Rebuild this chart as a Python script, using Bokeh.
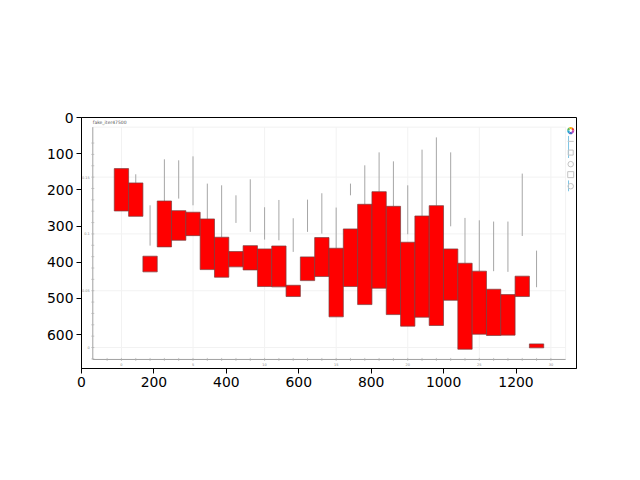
from bokeh.plotting import figure
from bokeh.models import Range1d, FixedTicker
from bokeh.core.properties import value
from bokeh.embed import file_html
from bokeh.resources import INLINE
import math

index = list(range(30))
bar_top = [0.1575, 0.1449, 0.0804, 0.1290, 0.1205, 0.1191, 0.1132, 0.0971, 0.0845, 0.0897,
           0.0868, 0.0894, 0.0548, 0.0798, 0.0968, 0.0874, 0.1044, 0.1261, 0.1372, 0.1243,
           0.0927, 0.1158, 0.1249, 0.0868, 0.0742, 0.0672, 0.0513, 0.0466, 0.0628, 0.0032]
bar_bottom = [0.1202, 0.1155, 0.0666, 0.0886, 0.0944, 0.0985, 0.0686, 0.0619, 0.0710, 0.0683,
              0.0537, 0.0534, 0.0449, 0.0589, 0.0625, 0.0270, 0.0537, 0.0378, 0.0522, 0.0290,
              0.0188, 0.0267, 0.0194, 0.0416, -0.0015, 0.0117, 0.0106, 0.0109, 0.0449, -0.0003]
wick_top = [0.1575, 0.1525, 0.1252, 0.1657, 0.1648, 0.1683, 0.1443, 0.1428, 0.1340, 0.1481,
            0.1235, 0.1299, 0.1138, 0.1302, 0.1358, 0.1232, 0.1443, 0.1604, 0.1718, 0.1639,
            0.1428, 0.1742, 0.1850, 0.1718, 0.1141, 0.1120, 0.1109, 0.1109, 0.1531, 0.0853]
wick_bottom = [0.1575, 0.1449, 0.0897, 0.1290, 0.1311, 0.1252, 0.1132, 0.0971, 0.1097, 0.1018,
               0.0950, 0.0944, 0.0842, 0.1018, 0.1003, 0.0874, 0.1340, 0.1261, 0.1372, 0.1243,
               0.0997, 0.1158, 0.1249, 0.1067, 0.0742, 0.0672, 0.0672, 0.0666, 0.0982, 0.0531]

outer_x_ticks = [0, 200, 400, 600, 800, 1000, 1200]
outer_y_ticks = [0, 100, 200, 300, 400, 500, 600]
inner_x_major = [0, 5, 10, 15, 20, 25, 30]
inner_x_labels = ["0", "5", "10", "15", "20", "25", "30"]
inner_y_major = [0, 0.05, 0.1, 0.15]
inner_y_labels = ["0", "0.05", "0.1", "0.15"]
inner_x_minor = list(range(-1, 31))
inner_y_minor = [-0.01 + 0.01 * k for k in range(20)]
inner_title = "fake_iter47500"

IX0, IX1, IY0, IY1 = -2.0, 31.03, -0.0105, 0.194

# chrome of the screenshotted toolbar, in image pixels of the outer axes
tool_y = [66, 97, 129, 158, 190]
tool_markers = ["dash", "square", "circle", "square", "circle"]
tool_sizes = [6, 5, 5.5, 6, 5.5]
tool_x = 1351
ring_colors = ["#e8443a", "#f5b400", "#5cb85c", "#26a6d1", "#4b62c8", "#c04bc0"]
blue_x = 1345
blue_y0 = [51, 174]
blue_y1 = [112, 204]

p = figure(width=632, height=472, output_backend="svg", toolbar_location=None,
           x_range=Range1d(0, 1367), y_range=Range1d(694, 0),
           min_border_left=81, min_border_right=56, min_border_top=117, min_border_bottom=104)
p.extra_x_ranges["ix"] = Range1d(-2.79, 31.79)
p.extra_y_ranges["iy"] = Range1d(-0.01847, 0.2025)
p.grid.visible = False
p.outline_line_color = "black"
p.outline_line_width = 1

for ax, ticks in ((p.xaxis[0], outer_x_ticks), (p.yaxis[0], outer_y_ticks)):
    ax.ticker = FixedTicker(ticks=ticks)
    ax.major_tick_line_color = "black"
    ax.major_tick_in = 0
    ax.major_tick_out = 5
    ax.minor_tick_line_color = None
    ax.axis_line_color = "black"
    ax.major_label_text_font = "DejaVu Sans"
    ax.major_label_text_font_size = "13.9px"
    ax.major_label_text_color = "black"
    ax.major_label_standoff = 3

kw = dict(x_range_name="ix", y_range_name="iy")
grid = "#f2f2f2"
# inner screenshot: grid and frame
p.segment(x0=inner_x_major, x1=inner_x_major, y0=[IY0] * 7, y1=[IY1] * 7, line_color=grid, line_width=1, **kw)
p.segment(x0=[IX0] * 4, x1=[IX1] * 4, y0=inner_y_major, y1=inner_y_major, line_color=grid, line_width=1, **kw)
p.segment(x0=[IX0, IX1], x1=[IX1, IX1], y0=[IY1, IY0], y1=[IY1, IY1], line_color=grid, line_width=1, **kw)

# wicks and bars
p.segment(x0=index, x1=index, y0=wick_bottom, y1=wick_top, line_color="#a6a6a6", line_width=1, **kw)
p.vbar(x=index, width=1, top=bar_top, bottom=bar_bottom, fill_color="#ff0000",
       line_color="#7a3c3c", line_width=0.7, **kw)

# inner axes
axc = "#a0a0a0"
p.segment(x0=[IX0, IX0], x1=[IX1, IX0], y0=[IY0, IY0], y1=[IY0, IY1], line_color=axc, line_width=1, **kw)
p.scatter(x=inner_x_minor, y=[IY0] * len(inner_x_minor), marker="dash", angle=1.5708, size=3,
          line_color="#b0b0b0", line_width=0.7, **kw)
p.scatter(x=[IX0] * len(inner_y_minor), y=inner_y_minor, marker="dash", size=3,
          line_color="#b0b0b0", line_width=0.7, **kw)
p.text(x=inner_x_major, y=[IY0] * 7, text=inner_x_labels, text_font=value("DejaVu Sans"), text_font_size="3.5px",
       text_color="#8a8a8a", text_align="center", text_baseline="middle", y_offset=5, **kw)
p.text(x=[IX0] * 4, y=inner_y_major, text=inner_y_labels, text_font=value("DejaVu Sans"), text_font_size="3.5px",
       text_color="#8a8a8a", text_align="right", text_baseline="middle", x_offset=-3, **kw)
p.text(x=[IX0], y=[IY1], text=[inner_title], text_font=value("DejaVu Sans"), text_font_size="4.5px",
       text_color="#555555", text_align="left", text_baseline="bottom", y_offset=-2, **kw)

# toolbar
n = len(ring_colors)
p.annular_wedge(x=[tool_x] * n, y=[36] * n, inner_radius=1.4, outer_radius=3.6,
                inner_radius_units="screen", outer_radius_units="screen",
                start_angle=[2 * math.pi * k / n for k in range(n)],
                end_angle=[2 * math.pi * (k + 1) / n for k in range(n)],
                fill_color=ring_colors, line_color=None)
p.segment(x0=[blue_x] * 2, x1=[blue_x] * 2, y0=blue_y0, y1=blue_y1, line_color="#7cc4e4", line_width=1)
for ty, tm, ts in zip(tool_y, tool_markers, tool_sizes):
    p.scatter(x=[tool_x], y=[ty], marker=tm, size=ts, fill_color=None, line_color="#c4c4c4", line_width=1)

open("out.html", "w").write(file_html(p, INLINE))
